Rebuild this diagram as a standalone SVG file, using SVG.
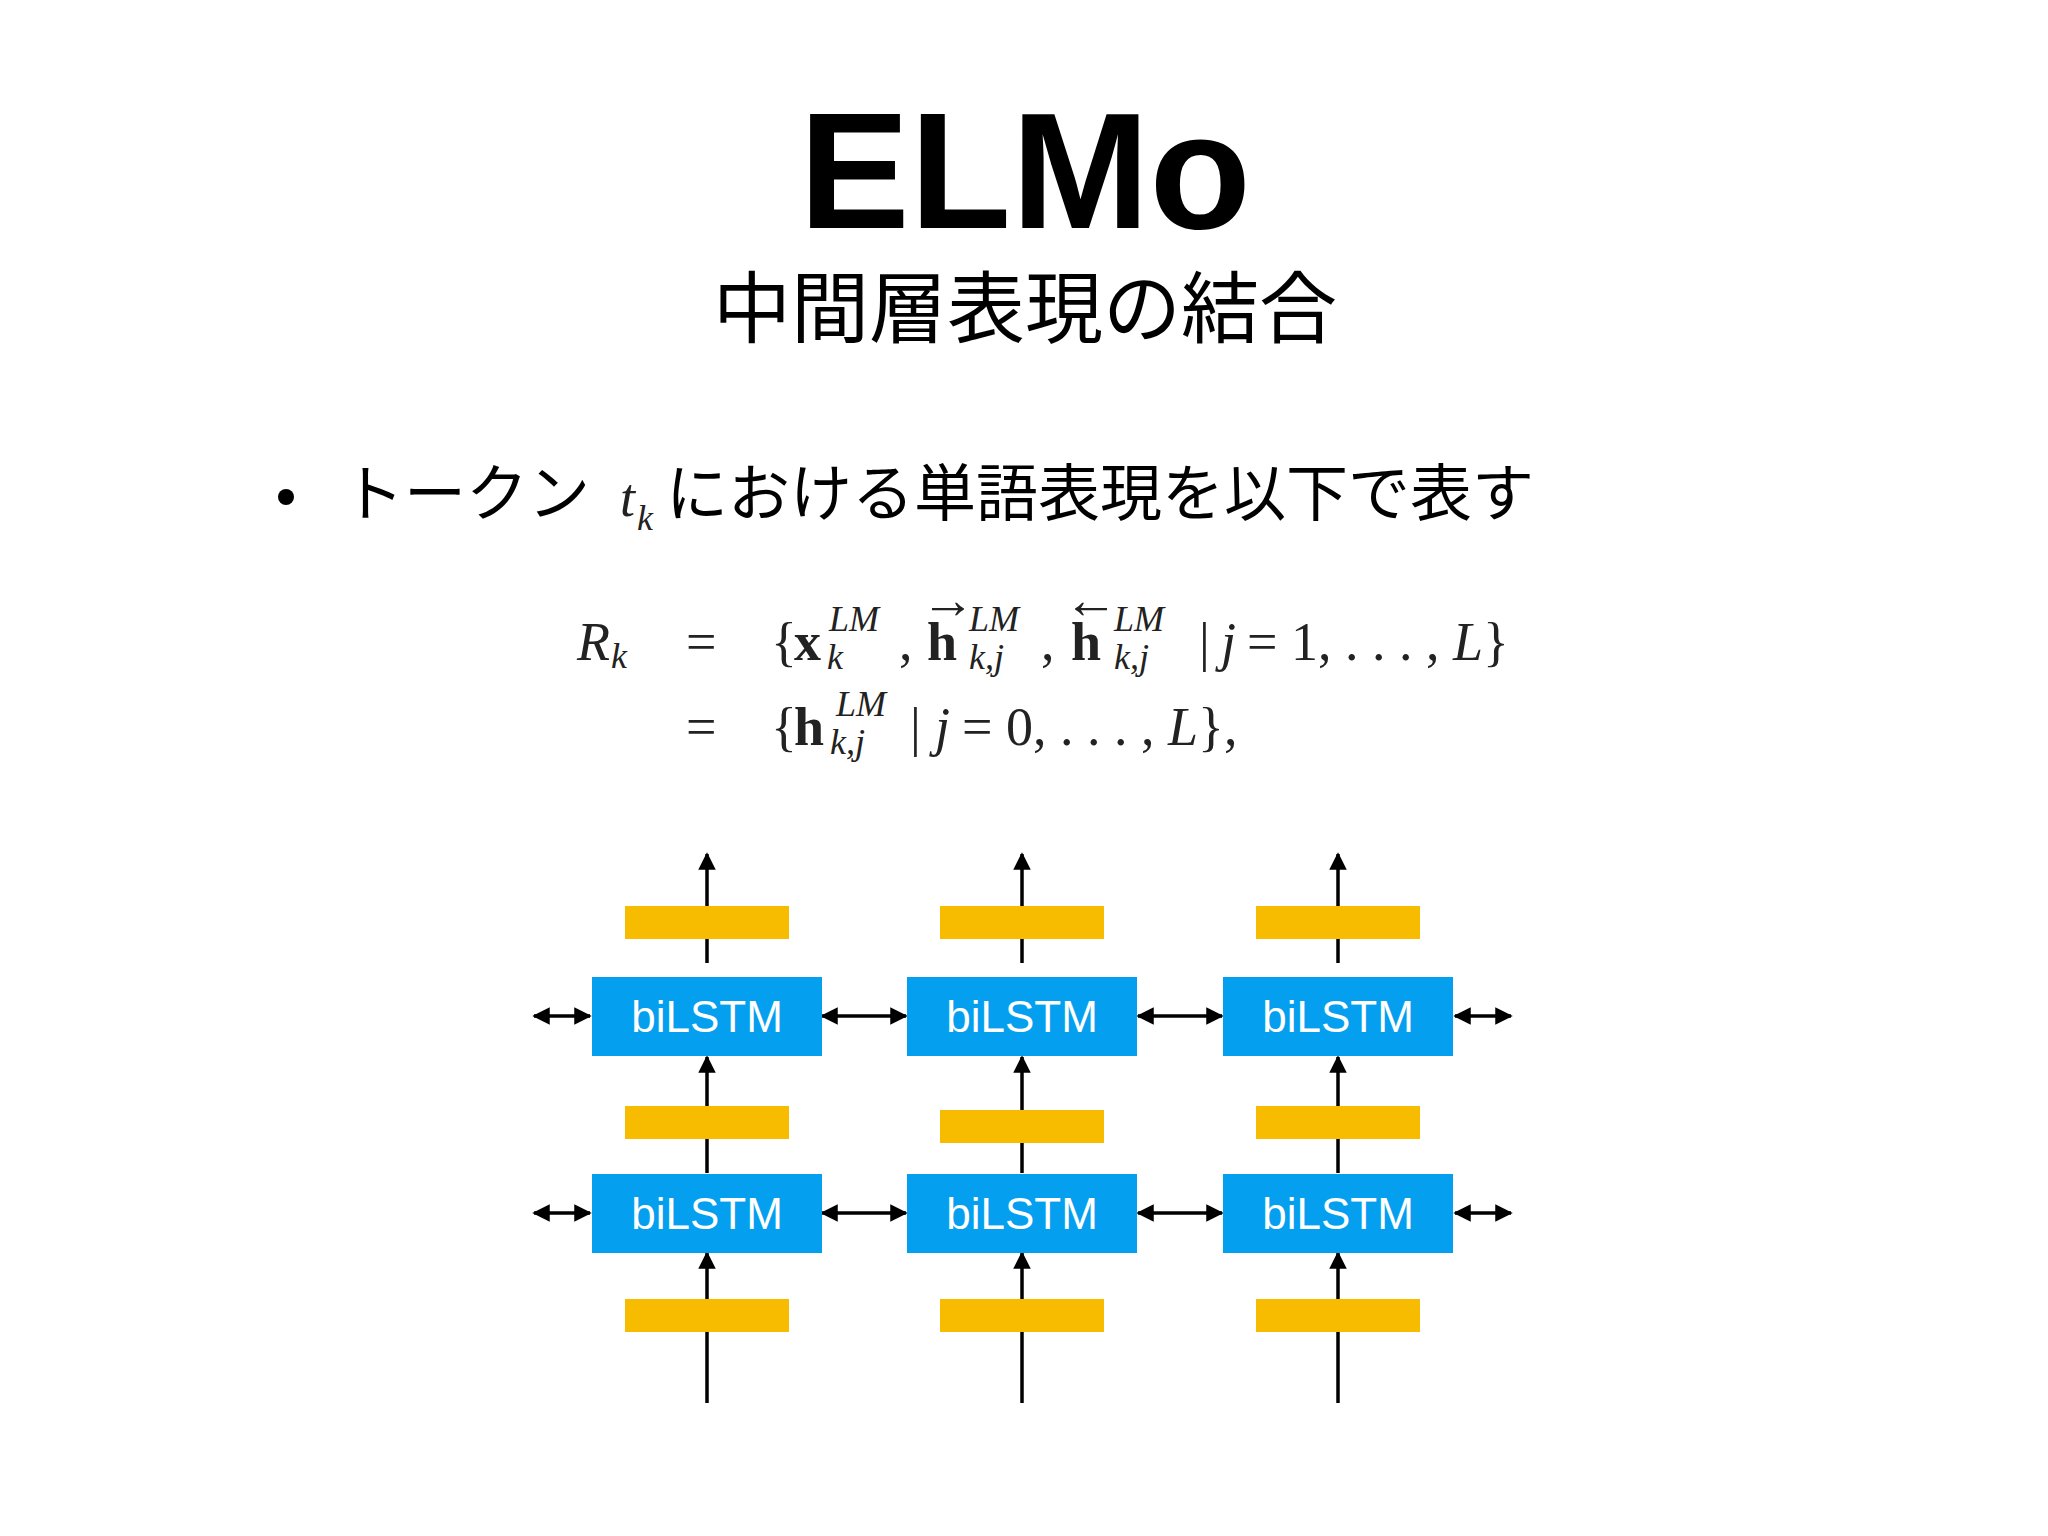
<svg xmlns="http://www.w3.org/2000/svg" width="2048" height="1536" viewBox="0 0 2048 1536">
<style>
.t{font-family:"Liberation Sans","Noto Sans CJK JP",sans-serif;fill:#000}
.m{font-family:"Liberation Serif","DejaVu Serif",serif;font-size:54px;fill:#222}
.i{font-style:italic}
.b{font-weight:bold}
.s{font-family:"Liberation Serif","DejaVu Serif",serif;font-size:36px;font-style:italic;fill:#222}
.box{fill:#049fef}
.bar{fill:#f7bb00}
.lbl{font-family:"Liberation Sans","Helvetica",sans-serif;font-size:44px;fill:#fff;text-anchor:middle}
.c line{stroke:#000;stroke-width:3.5}
</style>
<defs>
<marker id="a" viewBox="0 0 10 10" refX="9" refY="5" markerWidth="5" markerHeight="5" orient="auto-start-reverse"><path d="M0,0L10,5L0,10z" fill="#000"/></marker>
</defs>
<rect width="2048" height="1536" fill="#fff"/>
<text class="t" x="1025" y="228" font-size="166" text-anchor="middle" style="font-weight:bold">ELMo</text>
<text class="t" x="1025" y="337" font-size="78" text-anchor="middle">中間層表現の結合</text>
<circle cx="286" cy="497" r="8" fill="#000"/>
<text class="t" x="342" y="516" font-size="62">トークン</text>
<text class="m i" x="620" y="516" font-size="60">t</text>
<text class="s" x="637" y="530" font-size="34">k</text>
<text class="t" x="666" y="516" font-size="62">における単語表現を以下で表す</text>
<g id="formula">
<text class="m i" x="577" y="660">R</text><text class="s" x="611" y="668">k</text>
<text class="m" x="686" y="660">=</text>
<text class="m" x="771" y="660">{</text>
<text class="m b" x="794" y="660">x</text><text class="s" x="829" y="631">LM</text><text class="s" x="827" y="669">k</text>
<text class="m" x="899" y="660">,</text>
<text class="m" x="921" y="618" font-size="44">→</text>
<text class="m b" x="927" y="660">h</text><text class="s" x="969" y="631">LM</text><text class="s" x="969" y="669">k,j</text>
<text class="m" x="1041" y="660">,</text>
<text class="m" x="1064" y="618" font-size="44">←</text>
<text class="m b" x="1071" y="660">h</text><text class="s" x="1114" y="631">LM</text><text class="s" x="1114" y="669">k,j</text>
<text class="m" x="1199" y="660">|</text>
<text class="m i" x="1221" y="660">j</text>
<text class="m" x="1247" y="660">= 1, . . . , <tspan class="i">L</tspan>}</text>
<text class="m" x="686" y="745">=</text>
<text class="m" x="771" y="745">{</text>
<text class="m b" x="794" y="745">h</text><text class="s" x="836" y="716">LM</text><text class="s" x="830" y="754">k,j</text>
<text class="m" x="910" y="745">|</text>
<text class="m i" x="935" y="745">j</text>
<text class="m" x="962" y="745">= 0, . . . , <tspan class="i">L</tspan>},</text>
</g>
<g id="connectors" class="c">
<line x1="707" y1="963" x2="707" y2="854" marker-end="url(#a)"/>
<line x1="1022" y1="963" x2="1022" y2="854" marker-end="url(#a)"/>
<line x1="1338" y1="963" x2="1338" y2="854" marker-end="url(#a)"/>
<line x1="707" y1="1173" x2="707" y2="1057" marker-end="url(#a)"/>
<line x1="1022" y1="1173" x2="1022" y2="1057" marker-end="url(#a)"/>
<line x1="1338" y1="1173" x2="1338" y2="1057" marker-end="url(#a)"/>
<line x1="707" y1="1403" x2="707" y2="1253" marker-end="url(#a)"/>
<line x1="1022" y1="1403" x2="1022" y2="1253" marker-end="url(#a)"/>
<line x1="1338" y1="1403" x2="1338" y2="1253" marker-end="url(#a)"/>
<line x1="534" y1="1016" x2="590" y2="1016" marker-start="url(#a)" marker-end="url(#a)"/>
<line x1="822" y1="1016" x2="906" y2="1016" marker-start="url(#a)" marker-end="url(#a)"/>
<line x1="1138" y1="1016" x2="1222" y2="1016" marker-start="url(#a)" marker-end="url(#a)"/>
<line x1="1455" y1="1016" x2="1511" y2="1016" marker-start="url(#a)" marker-end="url(#a)"/>
<line x1="534" y1="1213" x2="590" y2="1213" marker-start="url(#a)" marker-end="url(#a)"/>
<line x1="822" y1="1213" x2="906" y2="1213" marker-start="url(#a)" marker-end="url(#a)"/>
<line x1="1138" y1="1213" x2="1222" y2="1213" marker-start="url(#a)" marker-end="url(#a)"/>
<line x1="1455" y1="1213" x2="1511" y2="1213" marker-start="url(#a)" marker-end="url(#a)"/>
</g>
<g id="bars">
<rect class="bar" x="625" y="906" width="164" height="33"/>
<rect class="bar" x="940" y="906" width="164" height="33"/>
<rect class="bar" x="1256" y="906" width="164" height="33"/>
<rect class="bar" x="625" y="1106" width="164" height="33"/>
<rect class="bar" x="940" y="1110" width="164" height="33"/>
<rect class="bar" x="1256" y="1106" width="164" height="33"/>
<rect class="bar" x="625" y="1299" width="164" height="33"/>
<rect class="bar" x="940" y="1299" width="164" height="33"/>
<rect class="bar" x="1256" y="1299" width="164" height="33"/>
</g>
<g id="n11"><rect class="box" x="592" y="977" width="230" height="79"/><text class="lbl" x="707" y="1032">biLSTM</text></g>
<g id="n12"><rect class="box" x="907" y="977" width="230" height="79"/><text class="lbl" x="1022" y="1032">biLSTM</text></g>
<g id="n13"><rect class="box" x="1223" y="977" width="230" height="79"/><text class="lbl" x="1338" y="1032">biLSTM</text></g>
<g id="n21"><rect class="box" x="592" y="1174" width="230" height="79"/><text class="lbl" x="707" y="1229">biLSTM</text></g>
<g id="n22"><rect class="box" x="907" y="1174" width="230" height="79"/><text class="lbl" x="1022" y="1229">biLSTM</text></g>
<g id="n23"><rect class="box" x="1223" y="1174" width="230" height="79"/><text class="lbl" x="1338" y="1229">biLSTM</text></g>
</svg>
